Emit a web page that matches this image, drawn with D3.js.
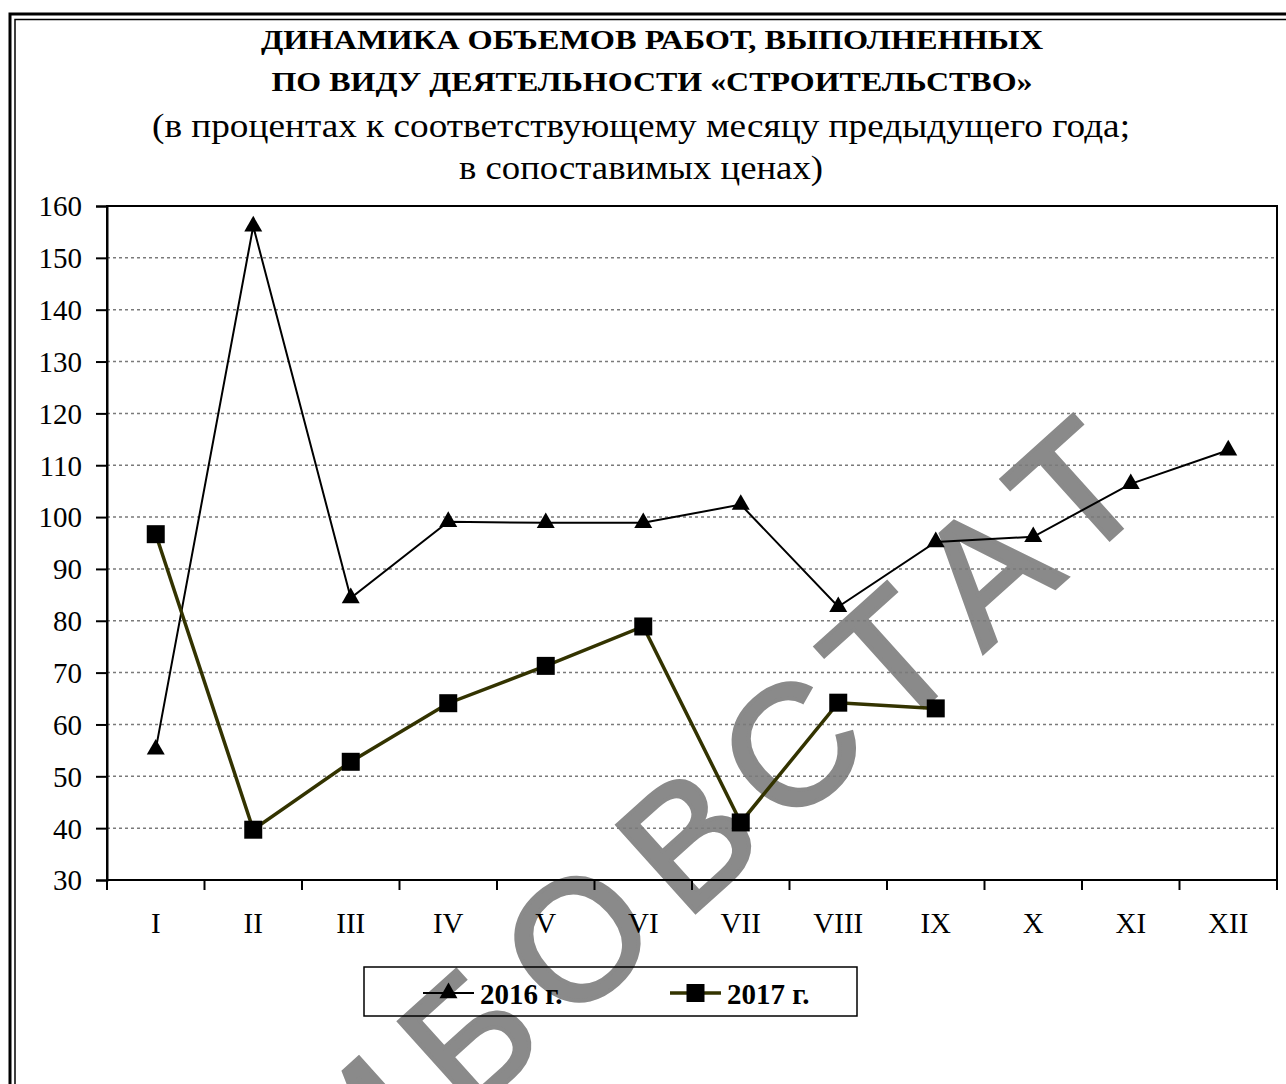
<!DOCTYPE html>
<html lang="ru">
<head>
<meta charset="UTF-8">
<title>Динамика объемов работ «Строительство»</title>
<script src="https://d3js.org/d3.v7.min.js"></script>
<style>
  body { margin: 0; background: #fff; }
  text { font-family: "Liberation Serif", "Times New Roman", serif; fill: #000; }
</style>
</head>
<body>
<svg width="1286" height="1084"></svg>
<script>
// data
let months = ["I", "II", "III", "IV", "V", "VI", "VII", "VIII", "IX", "X", "XI", "XII"]
let values2016 = [55.2, 156.1, 84.4, 99.1, 98.9, 98.9, 102.4, 82.7, 95.2, 96.2, 106.4, 112.9]
let values2017 = [96.7, 39.7, 52.8, 64.1, 71.3, 78.9, 41.1, 64.2, 63.1]
let yTicks = [30, 40, 50, 60, 70, 80, 90, 100, 110, 120, 130, 140, 150, 160]
let seriesNames = ["2016 г.", "2017 г."]
let titleLines = ["ДИНАМИКА ОБЪЕМОВ РАБОТ, ВЫПОЛНЕННЫХ", "ПО ВИДУ ДЕЯТЕЛЬНОСТИ «СТРОИТЕЛЬСТВО»"]
let subtitleLines = ["(в процентах к соответствующему месяцу предыдущего года;", "в сопоставимых ценах)"]

let svg = d3.select("svg")
let plotLeft = 107, plotRight = 1277, plotTop = 206, plotBottom = 880

// watermark, sits under everything
svg.append("text")
    .attr("transform", "translate(660,944) rotate(-42)")
    .attr("text-anchor", "middle")
    .style("font-family", "'Liberation Sans', Arial, sans-serif")
    .style("font-size", "170px")
    .style("letter-spacing", "26px")
    .style("fill", "#8a8a8a")
    .style("stroke", "#8a8a8a").style("stroke-width", 4)
    .text("ТАМБОВСТАТ")

// double frame round the page
svg.append("rect").attr("x", 10).attr("y", 14).attr("width", 1400).attr("height", 1200)
    .attr("fill", "none").attr("stroke", "#000").attr("stroke-width", 3)
svg.append("rect").attr("x", 15).attr("y", 19.5).attr("width", 1400).attr("height", 1200)
    .attr("fill", "none").attr("stroke", "#000").attr("stroke-width", 1.5)

// titles (the original is drawn wider than the font, so stretch to its width)
let titleWidths = [782, 761]
let subtitleWidths = [978, 364]
svg.selectAll(".title").data(titleLines).enter().append("text")
    .attr("x", 652).attr("y", (d, i) => 49 + i * 42)
    .attr("text-anchor", "middle")
    .attr("textLength", (d, i) => titleWidths[i]).attr("lengthAdjust", "spacingAndGlyphs")
    .style("font-size", "28px").style("font-weight", "bold")
    .text(d => d)
svg.selectAll(".subtitle").data(subtitleLines).enter().append("text")
    .attr("x", 641).attr("y", (d, i) => 137 + i * 42)
    .attr("text-anchor", "middle")
    .attr("textLength", (d, i) => subtitleWidths[i]).attr("lengthAdjust", "spacingAndGlyphs")
    .style("font-size", "34px")
    .text(d => d)

let x = d3.scaleBand().domain(months).range([plotLeft, plotRight])
let y = d3.scaleLinear().domain([30, 160]).range([plotBottom, plotTop])
let cx = d => x(d) + x.bandwidth() / 2

// dotted grid
svg.append("g").selectAll("line").data(yTicks.slice(1, -1)).enter().append("line")
    .attr("x1", plotLeft).attr("x2", plotRight)
    .attr("y1", d => y(d)).attr("y2", d => y(d))
    .attr("stroke", "#7a7a7a").attr("stroke-width", 1.5).attr("stroke-dasharray", "3,3")

// plot border
svg.append("rect").attr("x", plotLeft).attr("y", plotTop)
    .attr("width", plotRight - plotLeft).attr("height", plotBottom - plotTop)
    .attr("fill", "none").attr("stroke", "#000").attr("stroke-width", 2)

// y axis
let yAxis = svg.append("g")
    .attr("transform", `translate(${plotLeft},0)`)
    .call(d3.axisLeft(y).tickValues(yTicks).tickSize(11).tickPadding(14))
yAxis.select(".domain").attr("stroke-width", 2)
yAxis.selectAll(".tick line").attr("stroke-width", 2)
yAxis.attr("font-family", null).attr("font-size", null)
yAxis.selectAll("text").style("font-size", "29px").attr("dy", "0.34em")

// x axis: ticks on month borders, labels in the middle
let bounds = months.map(m => x(m)).concat([plotRight])
svg.append("g").selectAll("line").data(bounds).enter().append("line")
    .attr("x1", d => d).attr("x2", d => d)
    .attr("y1", plotBottom).attr("y2", plotBottom + 10)
    .attr("stroke", "#000").attr("stroke-width", 2)
svg.append("g").selectAll("text").data(months).enter().append("text")
    .attr("x", d => cx(d)).attr("y", 933)
    .attr("text-anchor", "middle")
    .style("font-size", "29px")
    .text(d => d)

// series
let line = d3.line().x((d, i) => cx(months[i])).y(d => y(d))
svg.append("path").datum(values2016).attr("d", line)
    .attr("fill", "none").attr("stroke", "#000").attr("stroke-width", 2)
svg.append("path").datum(values2017).attr("d", line)
    .attr("fill", "none").attr("stroke", "#333300").attr("stroke-width", 3.5)

let tri = d3.symbol().type(d3.symbolTriangle).size(140)
let sq = d3.symbol().type(d3.symbolSquare).size(324)
svg.append("g").selectAll("path").data(values2016).enter().append("path")
    .attr("d", tri)
    .attr("transform", (d, i) => `translate(${cx(months[i])},${y(d)})`)
    .attr("fill", "#000")
svg.append("g").selectAll("path").data(values2017).enter().append("path")
    .attr("d", sq)
    .attr("transform", (d, i) => `translate(${cx(months[i])},${y(d)})`)
    .attr("fill", "#000")

// legend
let legend = svg.append("g")
legend.append("rect").attr("x", 364).attr("y", 967).attr("width", 493).attr("height", 49)
    .attr("fill", "none").attr("stroke", "#000").attr("stroke-width", 1.5)
let items = [
    { x: 423, stroke: "#000", width: 2, sym: tri },
    { x: 670, stroke: "#333300", width: 3.5, sym: sq }
]
items.forEach(function (it, i) {
    legend.append("line").attr("x1", it.x).attr("x2", it.x + 51)
        .attr("y1", 993).attr("y2", 993)
        .attr("stroke", it.stroke).attr("stroke-width", it.width)
    legend.append("path").attr("d", it.sym)
        .attr("transform", `translate(${it.x + 25.5},993)`).attr("fill", "#000")
    legend.append("text").attr("x", it.x + 57).attr("y", 1004)
        .style("font-size", "29px").style("font-weight", "bold")
        .text(seriesNames[i])
})
</script>
</body>
</html>
